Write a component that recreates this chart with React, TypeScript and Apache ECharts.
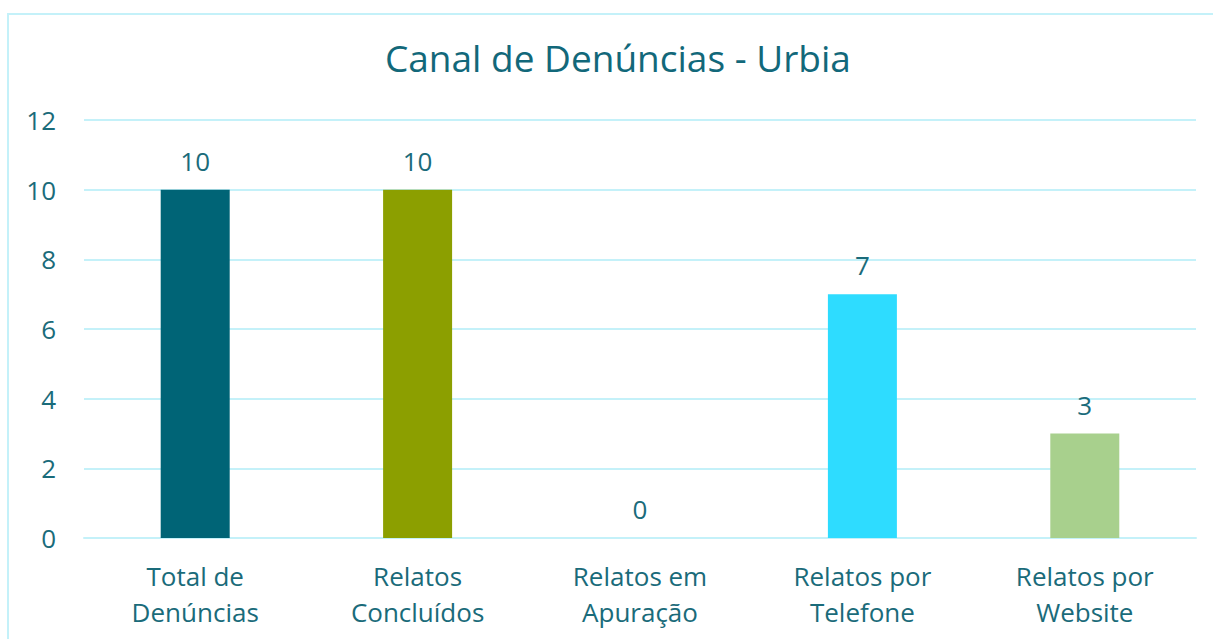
import React, { useEffect, useRef } from "react";
import * as echarts from "echarts";

const categories = [
  "Total de\nDenúncias",
  "Relatos\nConcluídos",
  "Relatos em\nApuração",
  "Relatos por\nTelefone",
  "Relatos por\nWebsite",
];
const values = [10, 10, 0, 7, 3];
const barColors = ["#006476", "#8c9f00", "#ffffff", "#2edcff", "#a8d08d"];
const titleText = "Canal de Denúncias - Urbia";

const textColor = "#1a6b7a";
const gridColor = "#c4f1f9";
const font = "'Open Sans', 'Noto Sans', sans-serif";

export default function App() {
  const ref = useRef<HTMLDivElement>(null);
  useEffect(() => {
    if (!ref.current) return;
    const chart = echarts.init(ref.current, undefined, { renderer: "svg" });
    chart.setOption({
      animation: false,
      backgroundColor: "#ffffff",
      graphic: [
        {
          type: "rect",
          shape: { x: 8, y: 14, width: 1400, height: 800 },
          style: { fill: "none", stroke: gridColor, lineWidth: 2 },
          silent: true,
        },
      ],
      title: {
        text: titleText,
        left: 380,
        top: 34,
        textStyle: {
          fontFamily: font,
          fontSize: 37,
          fontWeight: "normal",
          color: "#12687a",
        },
      },
      grid: { left: 84, right: 17, top: 120, bottom: 101 },
      xAxis: {
        type: "category",
        data: categories,
        axisLine: { show: true, lineStyle: { color: gridColor, width: 2 } },
        axisTick: { show: false },
        axisLabel: {
          fontFamily: font,
          fontSize: 26,
          color: textColor,
          lineHeight: 36,
          margin: 20,
          interval: 0,
        },
      },
      yAxis: {
        type: "value",
        min: 0,
        max: 12,
        interval: 2,
        axisLine: { show: false },
        axisTick: { show: false },
        splitLine: { lineStyle: { color: gridColor, width: 2 } },
        axisLabel: {
          fontFamily: font,
          fontSize: 26,
          color: textColor,
          margin: 28,
        },
      },
      series: [
        {
          type: "bar",
          barWidth: 69,
          data: values.map((v, i) => ({
            value: v,
            itemStyle: { color: barColors[i] },
          })),
          label: {
            show: true,
            position: "top",
            distance: 16,
            fontFamily: font,
            fontSize: 26,
            color: textColor,
          },
        },
      ],
    });
    return () => chart.dispose();
  }, []);
  return (
    <div
      ref={ref}
      style={{ position: "fixed", left: 0, top: 0, width: 1213, height: 639 }}
    />
  );
}
